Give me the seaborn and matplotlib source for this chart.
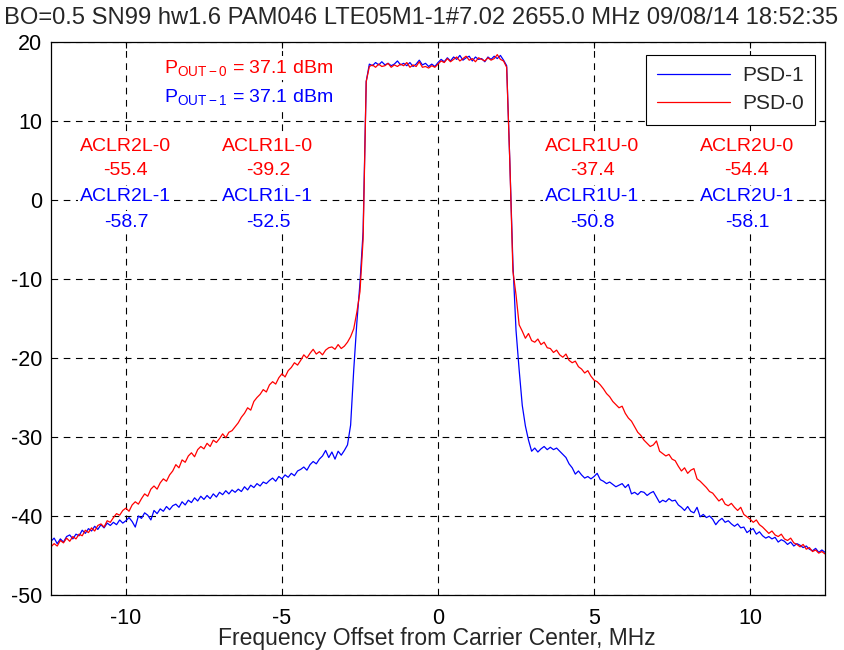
import numpy as np
import pandas as pd
import matplotlib
matplotlib.use("Agg")
import matplotlib.pyplot as plt
import seaborn as sns

# ---------------- data ----------------
f_start, f_step, n_points = -12.4, 0.1, 249
freq_mhz = np.round(f_start + f_step * np.arange(n_points), 1)

# PSD-0 (red), dB, one value per 0.1 MHz from -12.4 to 12.4
psd0 = [
    -43.9, -43.5, -43.8, -43.1, -43.4, -42.8, -43.2, -42.6, -42.9, -42.3,   # -12.4
    -42.5, -41.8, -42.1, -41.5, -41.9, -41.2, -41.0, -41.4, -40.6, -40.8,   # -11.4
    -40.2, -39.7, -39.9, -39.3, -39.0, -39.4, -38.6, -38.2, -38.5, -37.8,   # -10.4
    -37.2, -37.5, -36.6, -36.2, -36.6, -35.8, -35.3, -35.6, -34.8, -34.3,   # -9.4
    -33.5, -33.9, -32.9, -33.2, -32.4, -32.0, -32.5, -31.6, -31.2, -31.5,   # -8.4
    -30.8, -31.2, -30.4, -30.7, -30.2, -29.6, -30.1, -29.4, -29.2, -28.7,   # -7.4
    -28.2, -27.5, -27.0, -26.3, -26.6, -25.5, -25.0, -24.6, -24.0, -24.3,   # -6.4
    -23.4, -23.0, -23.3, -22.5, -22.0, -22.4, -21.6, -21.2, -20.6, -20.9,   # -5.4
    -20.3, -19.6, -20.0, -19.4, -18.9, -19.5, -19.2, -19.6, -19.0, -18.7,   # -4.4
    -18.6, -18.9, -18.3, -18.8, -18.5, -18.0, -17.3, -16.3, -14.2, -11.6,   # -3.4
    -5.0, 15.0, 16.9, 17.1, 16.8, 17.2, 16.9, 17.0, 17.3, 16.8,             # -2.4
    17.1, 16.9, 17.2, 17.0, 17.4, 16.8, 17.1, 16.9, 17.5, 16.8,             # -1.4
    16.9, 16.7, 17.0, 16.8, 17.2, 17.6, 17.4, 17.9, 17.5, 17.8,             # -0.4
    18.1, 17.6, 17.9, 18.2, 17.7, 17.9, 17.5, 18.0, 17.8, 17.6,             # 0.6
    18.0, 17.7, 17.9, 18.4, 17.8, 17.6, 16.8, 5.0, -9.0, -12.0,             # 1.6
    -15.8, -16.6, -17.5, -16.9, -17.8, -18.0, -17.6, -18.3, -18.0, -18.7,   # 2.6
    -18.8, -19.3, -19.0, -19.6, -19.9, -19.5, -20.3, -20.6, -20.4, -21.1,   # 3.6
    -21.4, -21.9, -21.6, -22.3, -22.8, -23.0, -23.4, -23.9, -24.5, -24.9,   # 4.6
    -25.5, -25.9, -26.3, -26.1, -27.0, -27.6, -28.0, -28.7, -29.4, -29.8,   # 5.6
    -30.4, -30.8, -31.2, -31.0, -30.5, -31.8, -32.1, -32.4, -32.2, -32.8,   # 6.6
    -33.0, -33.7, -34.3, -33.9, -34.6, -34.2, -34.0, -35.3, -35.6, -36.0,   # 7.6
    -36.4, -36.9, -37.1, -37.6, -38.1, -37.8, -38.5, -38.7, -38.4, -38.9,   # 8.6
    -39.3, -38.9, -39.8, -40.1, -40.4, -40.8, -40.5, -41.1, -41.4, -41.8,   # 9.6
    -42.2, -41.9, -42.4, -42.6, -42.3, -42.9, -43.1, -42.8, -43.4, -43.6,   # 10.6
    -43.9, -43.6, -44.2, -44.0, -44.5, -44.3, -44.7, -44.5, -44.8,          # 11.6
]

# PSD-1 (blue), dB
psd1 = [
    -43.2, -42.8, -43.5, -42.9, -43.3, -42.6, -42.4, -42.9, -42.3, -42.5,   # -12.4
    -41.8, -42.2, -41.6, -41.9, -41.3, -41.7, -41.1, -41.5, -40.9, -41.2,   # -11.4
    -40.8, -41.1, -40.5, -40.9, -40.6, -40.2, -40.7, -41.4, -40.0, -40.3,   # -10.4
    -39.6, -39.9, -40.5, -39.3, -39.7, -39.1, -39.4, -38.8, -39.2, -38.7,   # -9.4
    -38.5, -38.9, -38.2, -38.6, -38.0, -38.3, -37.7, -38.1, -37.5, -37.9,   # -8.4
    -37.4, -37.8, -37.2, -37.6, -37.0, -37.3, -36.8, -37.2, -36.7, -37.0,   # -7.4
    -36.6, -36.9, -36.3, -36.7, -36.1, -36.4, -35.9, -36.2, -35.7, -35.9,   # -6.4
    -35.5, -35.2, -35.6, -35.0, -35.3, -34.8, -35.1, -34.6, -34.9, -34.3,   # -5.4
    -34.1, -33.8, -34.2, -33.5, -33.1, -33.4, -32.8, -32.4, -31.7, -32.6,   # -4.4
    -31.9, -32.8, -31.8, -32.3, -31.7, -31.0, -28.5, -21.5, -15.5, -10.5,   # -3.4
    -4.0, 15.0, 17.2, 17.0, 17.4, 17.1, 17.5, 17.1, 17.3, 17.0,             # -2.4
    17.2, 17.6, 17.1, 17.3, 17.0, 17.4, 16.9, 17.2, 17.7, 17.1,             # -1.4
    17.3, 16.9, 17.2, 16.9, 17.4, 17.8, 17.5, 18.0, 17.6, 18.1,             # -0.4
    17.8, 18.3, 17.7, 18.0, 18.2, 17.6, 18.1, 17.8, 17.9, 17.5,             # 0.6
    18.1, 17.8, 18.2, 17.9, 18.3, 17.7, 17.0, 5.0, -8.0, -16.5,             # 1.6
    -21.5, -26.0, -28.6, -30.4, -31.8, -31.4, -31.9, -31.5, -31.2, -31.6,   # 2.6
    -31.3, -31.6, -31.4, -31.8, -32.2, -32.6, -33.4, -33.9, -34.7, -34.3,   # 3.6
    -34.8, -35.2, -35.0, -35.3, -35.0, -34.6, -35.4, -35.6, -35.9, -35.7,   # 4.6
    -36.0, -36.3, -36.1, -35.9, -36.4, -36.0, -37.2, -37.0, -37.3, -36.9,   # 5.6
    -37.0, -37.4, -37.1, -36.9, -37.6, -38.3, -38.0, -38.2, -37.8, -38.1,   # 6.6
    -38.0, -38.6, -38.9, -39.3, -38.8, -39.4, -39.6, -38.9, -40.1, -39.8,   # 7.6
    -40.2, -40.0, -40.4, -41.1, -40.6, -40.3, -40.8, -40.6, -41.0, -41.3,   # 8.6
    -41.0, -41.5, -41.4, -42.1, -41.8, -41.6, -42.3, -42.0, -42.5, -42.8,   # 9.6
    -42.6, -42.9, -42.7, -43.3, -43.0, -43.2, -43.6, -43.3, -43.8, -43.5,   # 10.6
    -43.7, -44.0, -43.8, -44.2, -44.4, -44.1, -44.6, -44.3, -44.6,          # 11.6
]

series_names = ["PSD-1", "PSD-0"]
aclr_names = ["ACLR2L", "ACLR1L", "ACLR1U", "ACLR2U"]
aclr_0 = ["-55.4", "-39.2", "-37.4", "-54.4"]
aclr_1 = ["-58.7", "-52.5", "-50.8", "-58.1"]
pout_0 = "37.1"
pout_1 = "37.1"
x_ticks = [-10, -5, 0, 5, 10]
y_ticks = [-50, -40, -30, -20, -10, 0, 10, 20]
title = "BO=0.5 SN99 hw1.6 PAM046 LTE05M1-1#7.02 2655.0 MHz 09/08/14 18:52:35"
xlabel = "Frequency Offset from Carrier Center, MHz"

# ---------------- style ----------------
sns.set_theme(style="white")
plt.rcParams["font.family"] = ["Liberation Sans", "DejaVu Sans"]
plt.rcParams["axes.unicode_minus"] = False
plt.rcParams["mathtext.fontset"] = "custom"
plt.rcParams["mathtext.rm"] = "Liberation Sans"
plt.rcParams["mathtext.it"] = "Liberation Sans"

RED = "#ff0000"
BLUE = "#0000ff"

fig = plt.figure(figsize=(8.44, 6.5), dpi=100)
ax = fig.add_axes([51 / 844, 55 / 650, 774 / 844, 553 / 650])

n = len(freq_mhz)
df = pd.DataFrame({
    "freq": np.concatenate([freq_mhz, freq_mhz]),
    "psd": np.array(psd1 + psd0, dtype=float),
    "series": [series_names[0]] * n + [series_names[1]] * n,
})

sns.lineplot(data=df, x="freq", y="psd", hue="series", hue_order=series_names,
             palette={series_names[0]: BLUE, series_names[1]: RED},
             estimator=None, errorbar=None, linewidth=0.9, ax=ax)

ax.set_xlim(-12.4, 12.4)
ax.set_ylim(-50, 20)
ax.set_xticks(x_ticks)
ax.set_yticks(y_ticks)
ax.set_xlabel("")
ax.set_ylabel("")
ax.grid(True, color="black", linestyle=(0, (6, 5)), linewidth=0.8)
ax.tick_params(axis="both", direction="in", top=True, right=True, length=4,
               width=0.8, color="black", labelsize=15.5, labelcolor="black")
ax.tick_params(axis="x", pad=9)
ax.tick_params(axis="y", pad=6.5)
for s in ax.spines.values():
    s.set_color("black")
    s.set_linewidth(0.9)

handles, labels = ax.get_legend_handles_labels()
leg = ax.legend(handles, labels, loc="upper right",
                bbox_to_anchor=((815 - 51) / 774, (595 - 55) / 553),
                borderaxespad=0, fontsize=15, frameon=True, fancybox=False,
                edgecolor="black", framealpha=1, handlelength=3.5,
                handletextpad=0.55, borderpad=0.55, labelspacing=0.42)
leg.get_frame().set_linewidth(0.8)

# annotations (white background like MATLAB text boxes)
box = dict(facecolor="white", edgecolor="none", pad=1.5)
aclr_x = [-10.0, -5.45, 4.95, 9.9]
for name, v0, v1, xp in zip(aclr_names, aclr_0, aclr_1, aclr_x):
    ax.text(xp, 6.8, f"{name}-0", color=RED, ha="center", va="center", fontsize=14, bbox=box)
    ax.text(xp, 3.7, v0, color=RED, ha="center", va="center", fontsize=14, bbox=box)
    ax.text(xp, 0.4, f"{name}-1", color=BLUE, ha="center", va="center", fontsize=14, bbox=box)
    ax.text(xp, -2.8, v1, color=BLUE, ha="center", va="center", fontsize=14, bbox=box)

ax.text(-8.78, 16.1, r"$\mathregular{P_{OUT-0}}$" + f" = {pout_0} dBm",
        color=RED, ha="left", va="baseline", fontsize=14, bbox=box)
ax.text(-8.78, 12.4, r"$\mathregular{P_{OUT-1}}$" + f" = {pout_1} dBm",
        color=BLUE, ha="left", va="baseline", fontsize=14, bbox=box)

fig.text(421.5 / 844, 1 - 18 / 650, title, ha="center", va="center", fontsize=17.1)
fig.text(437 / 844, 1 - 638 / 650, xlabel, ha="center", va="center", fontsize=16.5)

fig.savefig("out.png", dpi=100)
